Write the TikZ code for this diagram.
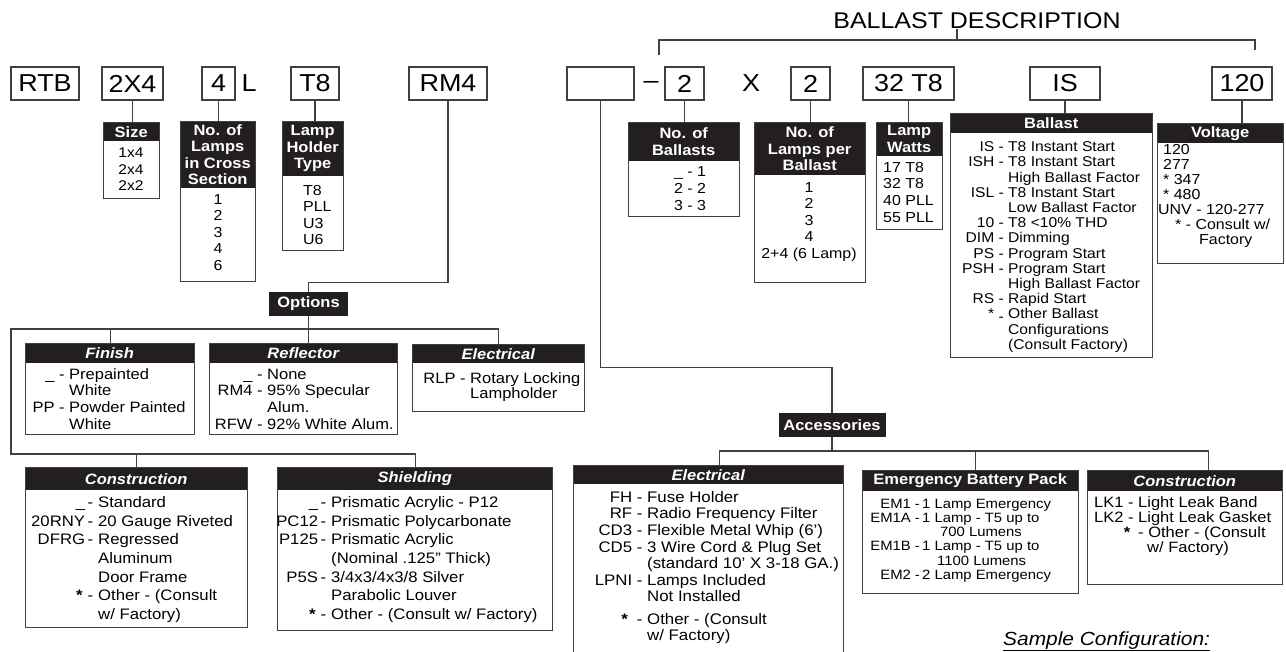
\documentclass[tikz,border=0pt]{standalone}
\usepackage{fontspec}
\setmainfont[FakeStretch=1.1]{Liberation Sans}
\definecolor{ink}{HTML}{231F20}
\definecolor{rule}{HTML}{404040}

\begin{document}
\begin{tikzpicture}[x=1pt, y=-1pt,
    code/.style={draw=rule, line width=1.2pt, inner sep=0pt, minimum height=33pt,
                 font=\fontsize{24.5}{26}\selectfont},
    loose/.style={inner sep=0pt, font=\fontsize{24.5}{26}\selectfont},
    hdr/.style={fill=ink, text=white, inner sep=0pt, align=center,
                font=\bfseries\fontsize{15}{16.6}\selectfont},
    catbox/.style={draw=rule, line width=1.2pt, inner sep=0pt},
    lst/.style={inner sep=0pt, anchor=base west, font=\fontsize{15}{16.6}\selectfont},
    link/.style={draw=rule, line width=1.1pt}]

    \useasboundingbox (0,0) rectangle (1286,652);
    \clip (0,0) rectangle (1286,652);

    % part number row
    \foreach \n/\xa/\xb/\txt in {rtb/11/79/RTB, c2x4/102/163/2X4, c4/202/235/4, ct8/291/339/T8,
        crm4/409/487/RM4, cblank/567/634/{}, cnb/665/704/2, clpb/791/830/2,
        cwatt/863/954/32 T8, cis/1030/1100/IS, cvolt/1212/1272/120}{
        \node[code, minimum width={(\xb-\xa)*1pt}] (\n) at ({(\xa+\xb)/2},83.5) {\txt};
    }
    \node[loose] (lmark) at (249,83.5) {L};
    \node[loose] (dash) at (651,84.5) {–};
    \node[loose] (xmark) at (751,83.5) {X};
    \node[loose, anchor=base, font=\fontsize{22.7}{24}\selectfont] (desc) at (977,29) {BALLAST DESCRIPTION};

    % category boxes: name/left/top/right/header bottom/bottom/header
    \foreach \n/\xa/\ya/\xb/\yh/\yb/\hd in {
        sizeB/103/122/159/141/198/Size,
        lampsB/180/121/255/188/281/{No. of\\Lamps\\in Cross\\Section},
        holderB/282/121/343/176/250/{Lamp\\Holder\\Type},
        ballastsB/628/122/739/161/216/{No. of\\Ballasts},
        perB/754/122/865/175/282/{No. of\\Lamps per\\Ballast},
        wattsB/876/122/942/156/229/{Lamp\\Watts},
        ballastB/950/113/1152/133/357/Ballast,
        voltB/1157/123/1283/143/263/Voltage,
        finishB/25/343/194/363/434/\itshape Finish,
        reflB/209/343/397/363/434/\itshape Reflector,
        elecB/412/344/584/363/411/\itshape Electrical,
        constB/25/467/247/490/627/\itshape Construction,
        shieldB/277/467/552/490/630/\itshape Shielding,
        accelecB/573/465/843/484/680/\itshape Electrical,
        emergB/862/470/1078/491/593/Emergency Battery Pack,
        accconstB/1087/470/1282/491/584/\itshape Construction}{
        \node[hdr, anchor=north west, minimum width={(\xb-\xa)*1pt},
              minimum height={(\yh-\ya)*1pt}] (\n-h) at (\xa,\ya) {\hd};
        \node[catbox, anchor=north west, minimum width={(\xb-\xa)*1pt},
              minimum height={(\yb-\ya)*1pt}] (\n) at (\xa,\ya) {};
    }
    \node[hdr, minimum width=79pt, minimum height=24pt] (options) at (308.5,304) {Options};
    \node[hdr, minimum width=107pt, minimum height=24pt] (acc) at (832,425) {Accessories};

    % lists
    \node[lst, anchor=base, font=\fontsize{14.1}{16.5}\selectfont] (sizeT) at (131,158)
        {\begin{tabular}[t]{@{}c@{}}1x4\\2x4\\2x2\end{tabular}};
    \node[lst, anchor=base, font=\fontsize{14.5}{16.5}\selectfont] (lampsT) at (218,204.2)
        {\begin{tabular}[t]{@{}c@{}}1\\2\\3\\4\\6\end{tabular}};
    \node[lst, font=\fontsize{14.5}{16.6}\selectfont] (holderT) at (303,195.2)
        {\begin{tabular}[t]{@{}l@{}}T8\\PLL\\U3\\U6\end{tabular}};
    \node[lst, font=\fontsize{14.5}{16.6}\selectfont] (ballastsT) at (674,176.9)
        {\begin{tabular}[t]{@{}l@{}}\_ - 1\\2 - 2\\3 - 3\end{tabular}};
    \node[lst, anchor=base, font=\fontsize{14.5}{16.5}\selectfont] (perT) at (809,192.2)
        {\begin{tabular}[t]{@{}c@{}}1\\2\\3\\4\\2+4 (6 Lamp)\end{tabular}};
    \node[lst, font=\fontsize{14.5}{16.7}\selectfont] (wattsT) at (883,172.2)
        {\begin{tabular}[t]{@{}l@{}}17 T8\\32 T8\\40 PLL\\55 PLL\end{tabular}};
    \node[lst, font=\fontsize{14.2}{15.2}\selectfont] (ballastT) at (1008,151.8)
        {\begin{tabular}[t]{@{}l@{}}
        \llap{IS - }T8 Instant Start\\
        \llap{ISH - }T8 Instant Start\\
        High Ballast Factor\\
        \llap{ISL - }T8 Instant Start\\
        Low Ballast Factor\\
        \llap{10 - }T8 <10\% THD\\
        \llap{DIM - }Dimming\\
        \llap{PS - }Program Start\\
        \llap{PSH - }Program Start\\
        High Ballast Factor\\
        \llap{RS - }Rapid Start\\
        \llap{* \raisebox{-.35ex}{-} }Other Ballast\\
        Configurations\\
        (Consult Factory)
        \end{tabular}};
    \node[lst, font=\fontsize{14.5}{15}\selectfont] (voltT) at (1158,154.2)
        {\begin{tabular}[t]{@{}l@{}}
        \hspace{5pt}120\\
        \hspace{5pt}277\\
        \hspace{5pt}* 347\\
        \hspace{5pt}* 480\\
        UNV - 120-277\\
        \hspace{17pt}* - Consult w/\\
        \hspace{41pt}Factory
        \end{tabular}};
    \node[lst] (finishT) at (69,379.4)
        {\begin{tabular}[t]{@{}l@{}}
        \llap{\_ - }Prepainted\\
        White\\
        \llap{PP - }Powder Painted\\
        White
        \end{tabular}};
    \node[lst] (reflT) at (267,379.4)
        {\begin{tabular}[t]{@{}l@{}}
        \llap{\_ - }None\\
        \llap{RM4 - }95\% Specular\\
        Alum.\\
        \llap{RFW - }92\% White Alum.
        \end{tabular}};
    \node[lst, font=\fontsize{15}{15.6}\selectfont] (elecT) at (470,383.1)
        {\begin{tabular}[t]{@{}l@{}}
        \llap{RLP - }Rotary Locking\\
        Lampholder
        \end{tabular}};
    \node[lst, font=\fontsize{15.2}{18.6}\selectfont] (constT) at (98,507.6)
        {\begin{tabular}[t]{@{}l@{}}
        \llap{\_\,-\hspace{5pt}}Standard\\
        \llap{20RNY\,-\hspace{5pt}}20 Gauge Riveted\\
        \llap{DFRG\,-\hspace{5pt}}Regressed\\
        Aluminum\\
        Door Frame\\
        \llap{\textbf{*}\hspace{5pt}-\hspace{5pt}}Other - (Consult\\
        w/ Factory)
        \end{tabular}};
    \node[lst, font=\fontsize{15.2}{18.6}\selectfont] (shieldT) at (331,507.6)
        {\begin{tabular}[t]{@{}l@{}}
        \llap{\_\,-\hspace{5pt}}Prismatic Acrylic - P12\\
        \llap{PC12\,-\hspace{5pt}}Prismatic Polycarbonate\\
        \llap{P125\,-\hspace{5pt}}Prismatic Acrylic\\
        (Nominal .125” Thick)\\
        \llap{P5S\,-\hspace{5pt}}3/4x3/4x3/8 Silver\\
        Parabolic Louver\\
        \llap{\textbf{*}\hspace{5pt}-\hspace{5pt}}Other - (Consult w/ Factory)
        \end{tabular}};
    \node[lst, font=\fontsize{15.3}{16.6}\selectfont] (accelecT) at (647,502.2)
        {\begin{tabular}[t]{@{}l@{}}
        \llap{FH - }Fuse Holder\\
        \llap{RF - }Radio Frequency Filter\\
        \llap{CD3 - }Flexible Metal Whip (6’)\\
        \llap{CD5 - }3 Wire Cord \& Plug Set\\
        (standard 10' X 3-18 GA.)\\
        \llap{LPNI - }Lamps Included\\
        Not Installed\\[5.7pt]
        \llap{\textbf{*}\hspace{9pt}- }Other - (Consult\\
        w/ Factory)
        \end{tabular}};
    \node[lst, font=\fontsize{13.5}{14.2}\selectfont] (emergT) at (922,508.2)
        {\begin{tabular}[t]{@{}l@{}}
        \llap{EM1 -\,}1 Lamp Emergency\\
        \llap{EM1A -\,}1 Lamp - T5 up to\\
        \hspace{18pt}700 Lumens\\
        \llap{EM1B -\,}1 Lamp - T5 up to\\
        \hspace{15pt}1100 Lumens\\
        \llap{EM2 -\,}2 Lamp Emergency
        \end{tabular}};
    \node[lst, font=\fontsize{15}{14.2}\selectfont] (accconstT) at (1138,507.1)
        {\begin{tabular}[t]{@{}l@{}}
        \llap{LK1 - }Light Leak Band\\
        \llap{LK2 - }Light Leak Gasket\\
        \llap{\textbf{*}\hspace{8pt}}- Other - (Consult\\
        \hspace{9pt}w/ Factory)
        \end{tabular}};
    \node[lst, font=\itshape\fontsize{19}{20}\selectfont] (sample) at (1003,645)
        {\underline{Sample Configuration:}};

    % connectors
    \foreach \src/\dst in {c2x4/sizeB, c4/lampsB, ct8/holderB, cnb/ballastsB,
        clpb/perB, cwatt/wattsB, cis/ballastB, cvolt/voltB}{
        \draw[link] (\src.south) -- (\src.south |- \dst.north);
    }
    \coordinate (brL) at (659,55);
    \coordinate (brM) at (957,40);
    \coordinate (brR) at (1255,50);
    \draw[link] (brL) |- (brM) -| (brR);
    \draw[link] (brM) -- (brM |- desc.south);

    \coordinate (busA) at (11,329);
    \coordinate (busB) at (11,454);
    \draw[link] (crm4.south) -- ++(0,182) -| (options.north);
    \draw[link] (options.south) -- (options.south |- reflB.north);
    \draw[link] (elecB.north) |- (busA) -- (busB) -| (shieldB.north);
    \draw[link] (finishB.north) -- (finishB.north |- busA);
    \draw[link] (constB.north) -- (constB.north |- busB);

    \draw[link] (cblank.south) -- ++(0,267) -| (acc.north);
    \draw[link] (acc.south) -- ++(0,14);
    \draw[link] ([xshift=11pt]accelecB.north) -- ++(0,-14) -| ([xshift=23pt]accconstB.north);
    \draw[link] ([xshift=5pt]emergB.north) -- ++(0,-19);
\end{tikzpicture}
\end{document}
